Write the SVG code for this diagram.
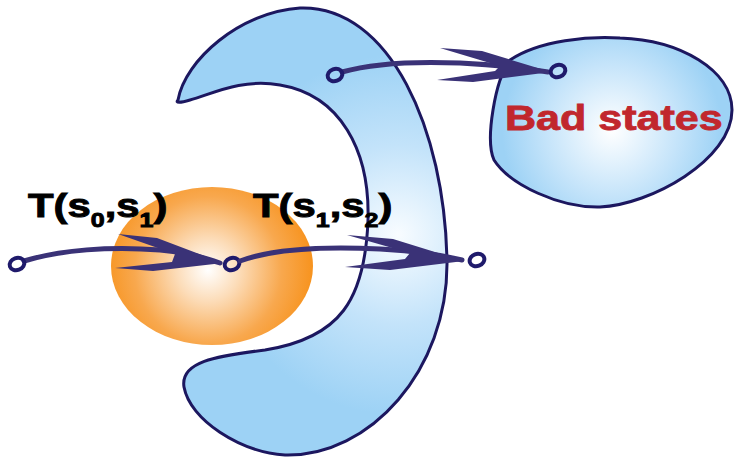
<svg xmlns="http://www.w3.org/2000/svg" width="734" height="457" viewBox="0 0 734 457">
<defs>
<radialGradient id="gOrange" gradientUnits="userSpaceOnUse" cx="208" cy="270" r="105">
<stop offset="0" stop-color="#ffffff"/>
<stop offset="0.3" stop-color="#fcdcb8"/>
<stop offset="0.7" stop-color="#f8a84e"/>
<stop offset="1" stop-color="#f7931e"/>
</radialGradient>
<radialGradient id="gCres" gradientUnits="userSpaceOnUse" cx="398" cy="235" r="180">
<stop offset="0" stop-color="#f8fcff"/>
<stop offset="0.5" stop-color="#c3e3fa"/>
<stop offset="1" stop-color="#9dd2f5"/>
</radialGradient>
<radialGradient id="gBad" gradientUnits="userSpaceOnUse" cx="612" cy="130" r="110">
<stop offset="0" stop-color="#ffffff"/>
<stop offset="0.6" stop-color="#c5e4fa"/>
<stop offset="1" stop-color="#9dd2f5"/>
</radialGradient>
<style>
.region{stroke:#1c175f;stroke-width:3}
.shaft{fill:none;stroke:#3a3277;stroke-width:5;stroke-linecap:round}
.head{fill:#3a3277}
.dot{fill:none;stroke:#1f1a6b;stroke-width:4}
.lbl{font-family:"Liberation Sans",Arial,sans-serif;font-weight:bold;fill:#000;stroke:#000;stroke-width:0.9}
.bad{font-family:"Liberation Sans",Arial,sans-serif;font-weight:bold;fill:#c1272d;stroke:#c1272d;stroke-width:0.8}
</style>
</defs>
<g id="init">
<ellipse cx="212" cy="266" rx="101" ry="79" fill="url(#gOrange)"/>
</g>
<g id="reach">
<path class="region" fill="url(#gCres)" d="M 178,100 C 185,60 240,12 300,8 C 390,5 445,130 447,262 C 448,370 370,457 285,455 C 240,452 190,420 184,387 C 180,362 215,356 265,350 C 340,338 365,300 368,220 C 370,150 340,95 280,85 C 240,78 210,95 190,100 C 180,103 175,103 178,100 Z"/>
</g>
<g id="badstates">
<path class="region" fill="url(#gBad)" d="M 510,60 C 540,40 590,36 620,38 C 680,40 732,70 732,110 C 732,160 650,205 600,207 C 560,208 510,185 494,160 C 485,140 495,80 510,60 Z"/>
<text class="bad" transform="translate(505,130) scale(1.23,1)" font-size="35">Bad states</text>
</g>
<g id="labels">
<text class="lbl" transform="translate(28,217) scale(1.25,1)" font-size="33.5">T(s<tspan font-size="20" dy="10">0</tspan><tspan dy="-10">,s</tspan><tspan font-size="20" dy="10">1</tspan><tspan dy="-10">)</tspan></text>
<text class="lbl" transform="translate(253,217) scale(1.25,1)" font-size="33.5">T(s<tspan font-size="20" dy="10">1</tspan><tspan dy="-10">,s</tspan><tspan font-size="20" dy="10">2</tspan><tspan dy="-10">)</tspan></text>
</g>
<g id="connectors">
<path class="shaft" d="M 24,261 C 60,250 110,246 160,250 C 190,253 205,258 220,263"/>
<path class="head" d="M 223,263 L 157,238 L 118,234 L 175,254 L 172,262 L 115,268 L 153,271 Z"/>
<ellipse class="dot" cx="17" cy="264" rx="7.5" ry="6" transform="rotate(-20 17 264)"/>
<ellipse class="dot" cx="232" cy="264" rx="7.5" ry="6" transform="rotate(-20 232 264)"/>

<path class="shaft" d="M 240,261 C 270,250 320,246 380,249 C 420,251 445,256 462,260"/>
<path class="head" d="M 464,261 L 393,239 L 347,235 L 410,253 L 405,259 L 345,267 L 390,270 Z"/>
<ellipse class="dot" cx="477" cy="260" rx="7.5" ry="6" transform="rotate(-20 477 260)"/>

<path class="shaft" d="M 342,72 C 370,64 410,61 460,63 C 500,65 530,69 548,72"/>
<path class="head" d="M 551,72 L 482,51 L 440,48 L 500,66 L 495,71 L 437,80 L 473,82 Z"/>
<ellipse class="dot" cx="335" cy="75" rx="7.5" ry="6" transform="rotate(-20 335 75)"/>
<ellipse class="dot" cx="558" cy="71" rx="7.5" ry="6" transform="rotate(-20 558 71)"/>
</g>
</svg>
